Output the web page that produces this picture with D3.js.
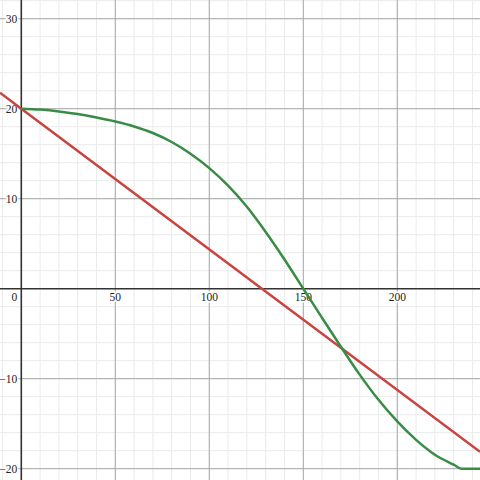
<!DOCTYPE html>
<html>
<head>
<meta charset="utf-8">
<script src="https://cdn.jsdelivr.net/npm/d3@7"></script>
<style>
html,body{margin:0;padding:0;background:#fff;}
svg{display:block;}
text{font-family:"Liberation Serif","DejaVu Serif",serif;font-size:11.5px;fill:#222;}
</style>
</head>
<body>
<svg id="chart" width="480" height="480"></svg>
<script>
// View window (data units)
const xView = [-11.33, 244.0];
const yView = [-21.26, 32.08];

// Tick values / labels
const xMajorTicks = [0, 50, 100, 150, 200];
const yMajorTicks = [-20, -10, 10, 20, 30];
const xMinorStep = 10;
const yMinorStep = 2;

// Red line (read points)
const redX = [-11.33, 0, 128, 244.0];
const redY = [21.77, 20, 0, -18.12];

// Green curve
const greenX = [0, 10, 20, 30, 40, 50, 60, 70, 80, 90, 100, 110, 120, 130, 140, 150, 160, 170, 180, 190, 200, 210, 220, 230, 234.2, 244.0];
const greenY = [20, 19.9, 19.7, 19.4, 19.02, 18.58, 18.03, 17.3, 16.3, 15.0, 13.4, 11.45, 9.1, 6.3, 3.25, 0, -3.25, -6.45, -9.55, -12.35, -14.75, -16.8, -18.45, -19.55, -20, -20];

const W = 480, H = 480;
const svg = d3.select("#chart");
const x = d3.scaleLinear().domain(xView).range([0, W]);
const y = d3.scaleLinear().domain(yView).range([H, 0]);

// minor grid
const xMinor = d3.range(Math.ceil(xView[0]/xMinorStep)*xMinorStep, xView[1], xMinorStep);
const yMinor = d3.range(Math.ceil(yView[0]/yMinorStep)*yMinorStep, yView[1], yMinorStep);
const g = svg.append("g");
g.selectAll(".xm").data(xMinor).join("line")
  .attr("x1", d => x(d)).attr("x2", d => x(d)).attr("y1", 0).attr("y2", H)
  .attr("stroke", "#ebebeb").attr("stroke-width", 1);
g.selectAll(".ym").data(yMinor).join("line")
  .attr("y1", d => y(d)).attr("y2", d => y(d)).attr("x1", 0).attr("x2", W)
  .attr("stroke", "#ebebeb").attr("stroke-width", 1);

// major grid
const xMajor = d3.range(Math.ceil(xView[0]/50)*50, xView[1], 50).filter(d => d !== 0);
const yMajor = d3.range(Math.ceil(yView[0]/10)*10, yView[1], 10).filter(d => d !== 0);
g.selectAll(".xM").data(xMajor).join("line")
  .attr("x1", d => x(d)).attr("x2", d => x(d)).attr("y1", 0).attr("y2", H)
  .attr("stroke", "#a8a8a8").attr("stroke-width", 1);
g.selectAll(".yM").data(yMajor).join("line")
  .attr("y1", d => y(d)).attr("y2", d => y(d)).attr("x1", 0).attr("x2", W)
  .attr("stroke", "#a8a8a8").attr("stroke-width", 1);

// axes
svg.append("line").attr("x1", x(0)).attr("x2", x(0)).attr("y1", 0).attr("y2", H)
  .attr("stroke", "#333").attr("stroke-width", 1.6);
svg.append("line").attr("y1", y(0)).attr("y2", y(0)).attr("x1", 0).attr("x2", W)
  .attr("stroke", "#333").attr("stroke-width", 1.6);

// tick labels
const lab = svg.append("g");
lab.selectAll(".xl").data(xMajorTicks).join("text")
  .attr("x", d => d === 0 ? x(0) - 7 : x(d))
  .attr("y", y(0) + 12)
  .attr("text-anchor", "middle")
  .attr("stroke", "#fff").attr("stroke-width", 3).attr("paint-order", "stroke")
  .text(d => d);
lab.selectAll(".yl").data(yMajorTicks).join("text")
  .attr("x", x(0) - 4)
  .attr("y", d => y(d) + 4)
  .attr("text-anchor", "end")
  .attr("stroke", "#fff").attr("stroke-width", 3).attr("paint-order", "stroke")
  .text(d => d < 0 ? "\u2212" + Math.abs(d) : d);

// series
const line = d3.line().x(d => x(d[0])).y(d => y(d[1]));
svg.append("path")
  .datum(redX.map((v, i) => [v, redY[i]]))
  .attr("d", line)
  .attr("fill", "none").attr("stroke", "#c74440").attr("stroke-width", 2.5);
svg.append("path")
  .datum(greenX.map((v, i) => [v, greenY[i]]))
  .attr("d", line.curve(d3.curveMonotoneX))
  .attr("fill", "none").attr("stroke", "#388c46").attr("stroke-width", 2.5);
</script>
</body>
</html>
